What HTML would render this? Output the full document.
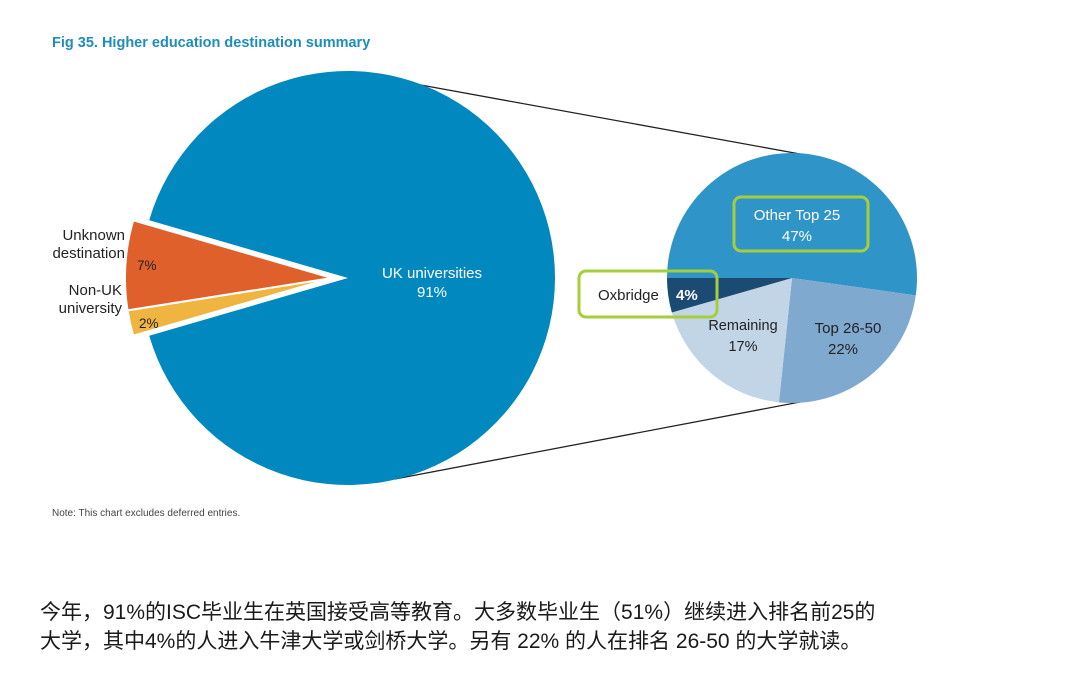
<!DOCTYPE html>
<html><head><meta charset="utf-8">
<style>
body{margin:0;background:#fff;width:1080px;height:691px;overflow:hidden;font-family:"Liberation Sans",sans-serif}
#cn{position:absolute;left:40px;top:598px;font-family:"Liberation Sans","Noto Sans CJK SC",sans-serif;font-size:21px;line-height:29px;color:#1a1a1a;margin:0}
</style></head><body>
<svg id="chart" width="1080" height="691" style="position:absolute;left:0;top:0" xmlns="http://www.w3.org/2000/svg">
<text x="52" y="47" font-size="14.5" font-weight="bold" fill="#1e8db8" font-family="Liberation Sans, sans-serif">Fig 35. Higher education destination summary</text>
<line x1="355" y1="73" x2="800" y2="154" stroke="#222" stroke-width="1.3"/>
<line x1="395" y1="479" x2="800" y2="402" stroke="#222" stroke-width="1.3"/>
<g id="main"></g>
<g id="sub"></g>
<text x="52" y="516" font-size="10" fill="#444">Note: This chart excludes deferred entries.</text>
</svg>
<p id="cn">今年，91%的ISC毕业生在英国接受高等教育。大多数毕业生（51%）继续进入排名前25的<br>大学，其中4%的人进入牛津大学或剑桥大学。另有 22% 的人在排名 26-50 的大学就读。</p>
<script>
const mainCats=["UK universities","Unknown destination","Non-UK university"];
const mainVals=[91,2,7];
const subCats=["Other Top 25","Top 26-50","Remaining","Oxbridge"];
const subVals=[47,22,17,4];
const NS="http://www.w3.org/2000/svg";
function arcPath(cx,cy,r,a0,a1){
  const x0=cx+r*Math.cos(a0),y0=cy+r*Math.sin(a0),x1=cx+r*Math.cos(a1),y1=cy+r*Math.sin(a1);
  const large=(a1-a0)>Math.PI?1:0;
  return `M${cx},${cy}L${x0},${y0}A${r},${r} 0 ${large} 1 ${x1},${y1}Z`;
}
function mk(tag,attrs,parent){const e=document.createElementNS(NS,tag);for(const k in attrs)e.setAttribute(k,attrs[k]);parent.appendChild(e);return e;}
function txt(parent,x,y,s,fill,size,anchor,weight){const t=mk("text",{x:x,y:y,fill:fill,"font-size":size,"text-anchor":anchor||"middle","font-weight":weight||"normal"},parent);t.textContent=s;return t;}
// main pie
const gm=document.getElementById("main");
const mTot=mainVals.reduce((a,b)=>a+b,0);
const mColors=["#0088bf","#f0b440","#e0602c"];
const cx=348,cy=278,R=207;
const smallSum=(mainVals[1]+mainVals[2])/mTot*2*Math.PI;
let a=Math.PI+smallSum/2;
const angles=[];
for(let i=0;i<mainVals.length;i++){const sw=mainVals[i]/mTot*2*Math.PI;angles.push([a,a+sw]);a+=sw;}
for(let i=0;i<mainVals.length;i++){
  let [a0,a1]=angles[i];
  let ox=0,oy=0;
  if(i>0){ox=-16;oy=0;}
  const p=mk("path",{d:arcPath(cx+ox,cy+oy,R,a0,a1),fill:mColors[i],stroke:"#fff","stroke-width":i>0?2:0},gm);
  
  
}
const lblUK=txt(gm,432,278,mainCats[0],"#fff",15);


const lblUK2=txt(gm,432,297,mainVals[0]+"%","#fff",15);


function midY(i){const m=(angles[i][0]+angles[i][1])/2;return cy+R*Math.sin(m);}
const yv1=txt(gm,139,midY(1)-(-5),mainVals[1]+"%","#222",13.5,"start");


const yv2=txt(gm,137,midY(2)+5,mainVals[2]+"%","#222",13.5,"start");


const l1=txt(gm,125,240,"Unknown","#222",15,"end");
const l1b=txt(gm,125,258,"destination","#222",15,"end");
const l2=txt(gm,122,295,"Non-UK","#222",15,"end");
const l2b=txt(gm,122,313,"university","#222",15,"end");
// sub pie
const gs=document.getElementById("sub");
const sTot=subVals.reduce((a,b)=>a+b,0);
const sColors=["#2f95c8","#7fa9cf","#c2d5e7","#1b4a72"];
const scx=792,scy=278,sr=125;
let b=Math.PI;
for(let i=0;i<subVals.length;i++){
  const sw=subVals[i]/sTot*2*Math.PI;
  const p=mk("path",{d:arcPath(scx,scy,sr,b,b+sw),fill:sColors[i]},gs);
  
  
  b+=sw;
}
const bx1=mk("rect",{x:734,y:197,width:134,height:54,rx:7,fill:"none",stroke:"#a6cd3a","stroke-width":3},gs);


const bx2=mk("rect",{x:579,y:271,width:138,height:46,rx:7,fill:"none",stroke:"#a6cd3a","stroke-width":3},gs);


const s1=txt(gs,797,220,subCats[0],"#fff",15);
const s1v=txt(gs,797,241,subVals[0]+"%","#fff",15);
const s2=txt(gs,848,333,subCats[1],"#222",15);
const s2v=txt(gs,843,354,subVals[1]+"%","#222",15);
const s3=txt(gs,743,330,subCats[2],"#222",14.5);
const s3v=txt(gs,743,351,subVals[2]+"%","#222",14.5);
const s4=txt(gs,598,300,subCats[3],"#222",15,"start");
const s4v=txt(gs,676,300,subVals[3]+"%","#fff",15,"start","bold");
</script>
</body></html>
